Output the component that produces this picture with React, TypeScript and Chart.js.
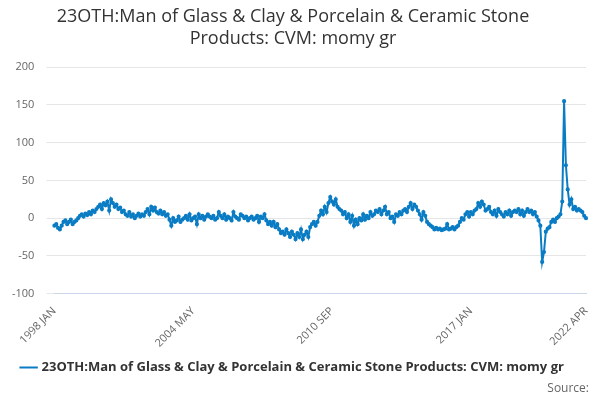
import React, { useEffect, useRef } from "react";
import { Chart, registerables } from "chart.js";
Chart.register(...registerables);

const y1998 = [-10, -8, -13, -15, -10, -5, -3, -8, -5, -2, -8, -5];
const y1999 = [-3, 0, 3, 5, 2, 6, 4, 8, 5, 10, 8, 12];
const y2000 = [15, 18, 12, 20, 17, 22, 10, 25, 20, 15, 18, 12];
const y2001 = [14, 8, 10, 5, 3, 8, 2, 5, 0, 3, 6, 2];
const y2002 = [5, 3, 8, 12, 5, 15, 10, 14, 8, 6, 10, 5];
const y2003 = [8, 3, 5, -2, -10, 0, -5, -3, 2, -5, -2, 0];
const y2004 = [3, -2, 5, -3, 0, 2, -8, 5, 0, 3, -2, 2];
const y2005 = [5, 2, 0, 3, -2, 0, 8, 3, 0, 5, -2, 2];
const y2006 = [0, -3, 8, 2, 0, -2, 5, 3, 0, 2, -3, 0];
const y2007 = [2, -2, 0, 3, -5, 2, 0, 5, -3, -8, -5, -10];
const y2008 = [-5, -12, -8, -15, -20, -18, -22, -15, -20, -25, -18, -22];
const y2009 = [-28, -20, -25, -15, -28, -22, -18, -25, -12, -8, -5, -10];
const y2010 = [-5, 3, 10, 5, 15, 8, 20, 28, 22, 18, 25, 15];
const y2011 = [12, 10, 5, 8, 0, 5, -5, 3, -10, -2, -8, 0];
const y2012 = [-3, 5, -2, 3, 0, 8, 3, 5, 10, 8, 12, 5];
const y2013 = [10, 15, 5, 8, 0, 2, -5, 5, 3, 8, 5, 10];
const y2014 = [12, 8, 15, 20, 12, 18, 15, 10, 5, -2, 8, 3];
const y2015 = [-5, -8, -10, -12, -15, -13, -15, -14, -16, -15, -14, -8];
const y2016 = [-15, -14, -12, -15, -12, -10, -5, 0, -2, 5, 8, 2];
const y2017 = [8, 5, 10, 12, 20, 15, 22, 18, 10, 12, 15, 8];
const y2018 = [5, 10, 3, 12, 8, 5, 2, 8, 5, 10, 3, 8];
const y2019 = [10, 8, 12, 5, 10, 3, 8, 12, 8, 10, 5, 8];
const y2020 = [2, -3, -10, -58, -45, -18, -14, -12, -5, -2, -5, 0];
const y2021 = [2, 5, 22, 155, 70, 38, 18, 25, 12, 15, 10, 12];
const y2022 = [10, 8, 3, 0];

const values = [
  ...y1998, ...y1999, ...y2000, ...y2001, ...y2002, ...y2003, ...y2004, ...y2005,
  ...y2006, ...y2007, ...y2008, ...y2009, ...y2010, ...y2011, ...y2012, ...y2013,
  ...y2014, ...y2015, ...y2016, ...y2017, ...y2018, ...y2019, ...y2020, ...y2021, ...y2022,
];
const MONTHS = ["JAN", "FEB", "MAR", "APR", "MAY", "JUN", "JUL", "AUG", "SEP", "OCT", "NOV", "DEC"];
const labels = values.map((_, i) => `${1998 + Math.floor(i / 12)} ${MONTHS[i % 12]}`);
const shownTicks = ["1998 JAN", "2004 MAY", "2010 SEP", "2017 JAN", "2022 APR"];
const yTicks = [-100, -50, 0, 50, 100, 150, 200];
const TITLE = ["23OTH:Man of Glass & Clay & Porcelain & Ceramic Stone", "Products: CVM: momy gr"];
const SERIES = "23OTH:Man of Glass & Clay & Porcelain & Ceramic Stone Products: CVM: momy gr";

export default function App() {
  const ref = useRef<HTMLCanvasElement>(null);
  useEffect(() => {
    const font = "'Open Sans', sans-serif";
    const chart = new Chart(ref.current!, {
      type: "line",
      data: {
        labels,
        datasets: [{
          label: SERIES,
          data: values,
          borderColor: "#0a7cc4",
          backgroundColor: "#0a7cc4",
          borderWidth: 2,
          pointRadius: 1.1,
          pointHoverRadius: 2,
          tension: 0,
        }],
      },
      options: {
        animation: false,
        responsive: false,
        layout: { padding: { left: 0, right: 14, top: 0, bottom: 16 } },
        plugins: {
          title: {
            display: true, text: TITLE, color: "#333",
            font: { family: font, size: 18, weight: "normal" }, padding: { top: 6, bottom: 18 },
          },
          legend: {
            position: "bottom",
            labels: {
              color: "#333", font: { family: font, size: 13, weight: "bold" },
              usePointStyle: true, pointStyle: "line", boxWidth: 16, padding: 8,
            },
          },
          tooltip: { enabled: false },
        },
        scales: {
          x: {
            grid: { display: false },
            border: { color: "#ccd6eb" },
            ticks: {
              autoSkip: false, maxRotation: 45, minRotation: 45, color: "#666",
              font: { family: font, size: 11 },
              callback: (_v, i) => (shownTicks.includes(labels[i]) ? labels[i] : null),
            },
          },
          y: {
            min: -100, max: 200,
            afterBuildTicks: (ax: any) => { ax.ticks = yTicks.map((v) => ({ value: v })); },
            grid: { color: "#e6e6e6" },
            border: { display: false },
            ticks: { color: "#666", font: { family: font, size: 11 }, padding: 12 },
          },
        },
      },
    });
    return () => chart.destroy();
  }, []);
  return (
    <div style={{ position: "fixed", left: 0, top: 0, width: 600, height: 400, background: "#fff" }}>
      <canvas ref={ref} width={600} height={400} />
      <div style={{ position: "absolute", right: 11, bottom: 4, fontFamily: "'Open Sans', sans-serif", fontSize: 12, color: "#666" }}>Source:</div>
    </div>
  );
}
